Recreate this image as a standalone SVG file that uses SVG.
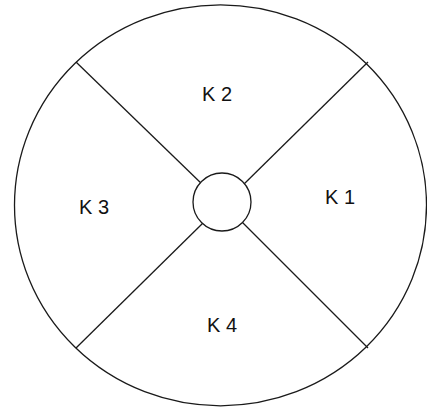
<svg xmlns="http://www.w3.org/2000/svg" width="427" height="408" viewBox="0 0 427 408">
<style>
.s{fill:none;stroke:#1a1a1a;stroke-width:1.3}
.w{fill:#fff;stroke:#1a1a1a;stroke-width:1.3}
.t{font-family:"Liberation Sans",Arial,sans-serif;font-size:20px;fill:#111}
</style>
<rect width="427" height="408" fill="#fff"/>
<g id="outer"><ellipse class="s" cx="220.5" cy="205.3" rx="206" ry="200.5"/></g>
<g id="connectors">
<line class="s" x1="76" y1="62" x2="204" y2="186"/>
<line class="s" x1="368" y1="62" x2="242" y2="186"/>
<line class="s" x1="76" y1="348" x2="204" y2="222"/>
<line class="s" x1="368" y1="348" x2="242" y2="222"/>
</g>
<g id="hub"><circle class="w" cx="222" cy="202" r="29"/></g>
<g id="k1"><text class="t" x="325" y="204">K 1</text></g>
<g id="k2"><text class="t" x="202" y="101">K 2</text></g>
<g id="k3"><text class="t" x="79" y="214">K 3</text></g>
<g id="k4"><text class="t" x="207" y="332">K 4</text></g>
</svg>
